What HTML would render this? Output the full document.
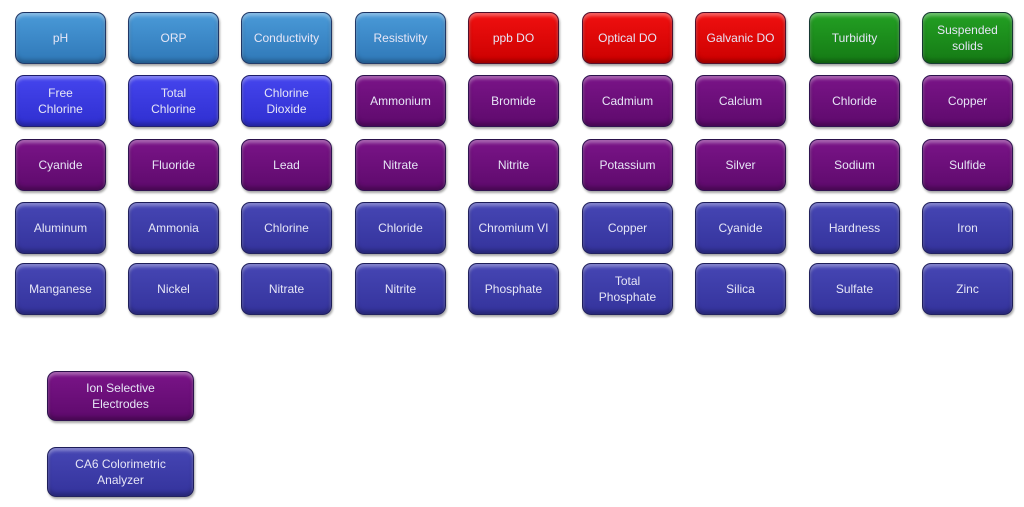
<!DOCTYPE html>
<html><head><style>
body{margin:0;width:1024px;height:507px;background:#fff;position:relative;overflow:hidden;font-family:"Liberation Sans",sans-serif}
.b{position:absolute;width:91px;height:52px;border-radius:9px;display:flex;align-items:center;justify-content:center;text-align:center;font-size:12px;line-height:16px;color:#e6e6f6;box-sizing:border-box;border:1.5px solid rgba(20,20,60,.7);box-shadow:1px 2px 2px rgba(0,0,0,.35), inset 0 3px 3px rgba(255,255,255,.35), inset 0 -3px 4px rgba(0,0,0,.25)}
.lb{background:linear-gradient(#4a9ad8,#2f78b8)}
.bl{background:linear-gradient(#4545ee,#2f2fd0)}
.pu{background:linear-gradient(#7a1488,#5e0a6c)}
.db{background:linear-gradient(#4646b4,#34339c)}
.rd{background:linear-gradient(#f01010,#cc0000)}
.gr{background:linear-gradient(#23a023,#157a15)}
</style></head><body>
<div id="c"></div>
<script>
var xs=[15,128,241,355,468,582,695,809,922],ys=[12,75,139,202,263];
var rows=[
[["pH","lb"],["ORP","lb"],["Conductivity","lb"],["Resistivity","lb"],["ppb DO","rd"],["Optical DO","rd"],["Galvanic DO","rd"],["Turbidity","gr"],["Suspended<br>solids","gr"]],
[["Free<br>Chlorine","bl"],["Total<br>Chlorine","bl"],["Chlorine<br>Dioxide","bl"],["Ammonium","pu"],["Bromide","pu"],["Cadmium","pu"],["Calcium","pu"],["Chloride","pu"],["Copper","pu"]],
[["Cyanide","pu"],["Fluoride","pu"],["Lead","pu"],["Nitrate","pu"],["Nitrite","pu"],["Potassium","pu"],["Silver","pu"],["Sodium","pu"],["Sulfide","pu"]],
[["Aluminum","db"],["Ammonia","db"],["Chlorine","db"],["Chloride","db"],["Chromium VI","db"],["Copper","db"],["Cyanide","db"],["Hardness","db"],["Iron","db"]],
[["Manganese","db"],["Nickel","db"],["Nitrate","db"],["Nitrite","db"],["Phosphate","db"],["Total<br>Phosphate","db"],["Silica","db"],["Sulfate","db"],["Zinc","db"]]];
var h="";
rows.forEach(function(r,i){r.forEach(function(c,j){h+='<div class="b '+c[1]+'" style="left:'+xs[j]+'px;top:'+ys[i]+'px">'+c[0]+'</div>';});});
h+='<div class="b pu" style="left:47px;top:371px;width:147px;height:50px">Ion Selective<br>Electrodes</div>';
h+='<div class="b db" style="left:47px;top:447px;width:147px;height:50px">CA6 Colorimetric<br>Analyzer</div>';
document.getElementById("c").innerHTML=h;
</script>
</body></html>
